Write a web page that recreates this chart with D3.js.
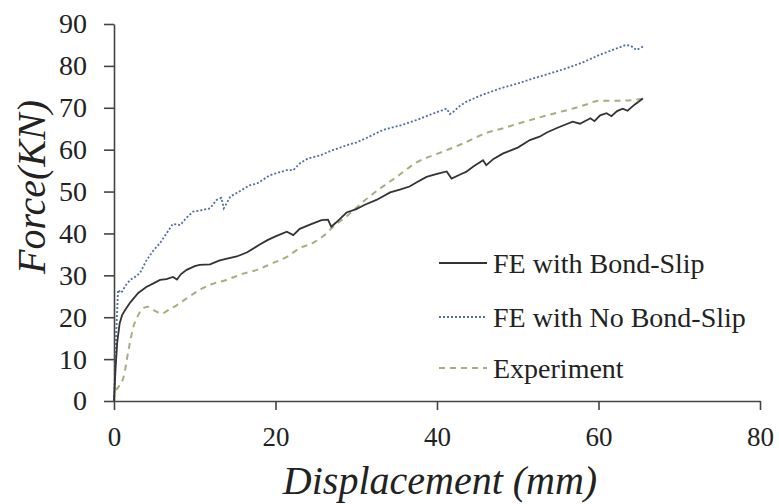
<!DOCTYPE html>
<html>
<head>
<meta charset="utf-8">
<script src="https://cdn.jsdelivr.net/npm/d3@7"></script>
<style>
  body { margin: 0; background: #fff; }
  svg { display: block; }
  svg text { font-family: "Liberation Serif"; fill: #222; }
</style>
</head>
<body>
<script>
// load-displacement curves, [displacement mm, force kN]
var bondSlip = [[0,0],[0.2,8],[0.4,14],[0.7,18.5],[1.0,20.5],[1.4,21.8],[2,23.5],[3,25.8],[4,27.2],[5,28.2],[5.7,28.9],[6.5,29.1],[7.3,29.6],[7.8,29.0],[8.3,30.3],[9,31.3],[10,32.2],[10.6,32.5],[11.9,32.6],[13,33.5],[14,34],[15.2,34.5],[16.5,35.5],[18,37.3],[19,38.4],[20,39.3],[21.4,40.4],[22.2,39.6],[23,41.1],[24.5,42.3],[25.7,43.2],[26.5,43.3],[26.9,41.6],[27.5,42.6],[28.8,45.0],[30,45.8],[31,46.8],[32.5,48],[34.2,49.8],[35.5,50.5],[36.6,51.2],[37.5,52.2],[38.7,53.5],[40,54.2],[41.2,54.8],[41.8,53.1],[43,54.2],[43.6,54.7],[44.5,56],[45.7,57.5],[46.1,56.3],[47,57.8],[48.2,59.1],[50,60.5],[51.5,62.3],[52.7,63.1],[53.6,64.1],[55,65.3],[56.8,66.7],[57.7,66.2],[59,67.5],[59.5,66.8],[60.2,68.2],[61,68.7],[61.6,68.0],[62.3,69.2],[63,69.8],[63.6,69.3],[64.5,70.8],[65.5,72.2]];

var noBondSlip = [[0,0],[0.1,5],[0.25,15],[0.4,22],[0.5,26.5],[0.9,25.8],[1.4,27.5],[2,28.9],[2.5,29.5],[3.2,30.5],[4,33.5],[4.9,36],[5.7,37.7],[6.5,40],[7.3,42.3],[8.2,42],[9,43.8],[9.8,45.2],[11,45.6],[11.9,46],[12.7,48],[13.3,48.5],[13.6,46],[14.4,48.8],[15.5,50],[16.8,51.5],[17.7,51.9],[19.3,53.9],[20.3,54.5],[21.4,55.1],[22.2,55.1],[23,56.7],[24,57.9],[25.5,58.6],[27.1,59.9],[29.2,61.3],[30,61.7],[31.5,63],[33.3,64.7],[35.5,65.8],[37.5,67.1],[39.5,68.6],[41.2,69.8],[41.6,68.5],[42,69],[42.8,70.4],[43.6,71.4],[45.5,73],[47.8,74.6],[50,75.8],[51.9,77],[54,78.2],[56,79.4],[58,80.8],[60.1,82.6],[62,84],[63.4,85],[64,84.8],[64.7,83.8],[65.5,84.6]];

var experiment = [[0,0],[0.1,1.9],[0.6,3.5],[1.2,5.8],[1.8,12.2],[2.4,17.7],[3,20.5],[3.6,22.1],[4.2,22.5],[5,21.6],[5.9,20.9],[6.8,21.8],[7.8,22.9],[9,24.5],[10.6,26.5],[12,27.8],[13.9,28.9],[16,30.4],[17.7,31.3],[19.5,32.8],[21.4,34.4],[23,36.5],[24.7,37.8],[26,39.5],[27.1,41.5],[29,44.4],[31,47.8],[33,50.8],[35,53.5],[37.5,57],[40,59],[42,60.5],[43.6,61.8],[46.1,64],[48,65],[50,66.2],[52.7,67.7],[55,68.9],[56.8,69.8],[58.5,70.8],[60.1,71.7],[63,71.7],[65.5,72.2]];

var xTicks = [0, 20, 40, 60, 80];
var yTicks = [0, 10, 20, 30, 40, 50, 60, 70, 80, 90];
var seriesNames = ["FE with Bond-Slip", "FE with No Bond-Slip", "Experiment"];

var W = 779, H = 504;

var svg = d3.select("body").append("svg")
  .attr("width", W)
  .attr("height", H)
  .attr("font-family", "Liberation Serif");

var x = d3.scaleLinear().domain([0, 80]).range([114, 760]);
var y = d3.scaleLinear().domain([0, 90]).range([401, 24]);

// axes
var gx = svg.append("g")
  .attr("transform", "translate(0," + y(0) + ")")
  .call(d3.axisBottom(x).tickValues(xTicks).tickSize(9).tickPadding(17).tickSizeOuter(0));
var gy = svg.append("g")
  .attr("transform", "translate(" + x(0) + ",0)")
  .call(d3.axisLeft(y).tickValues(yTicks).tickSize(10).tickPadding(17).tickSizeOuter(0));

[gx, gy].forEach(function(g) {
  g.attr("font-family", "Liberation Serif").attr("font-size", 27);
  g.select(".domain").attr("stroke", "#444").attr("stroke-width", 1.6);
  g.selectAll(".tick line").attr("stroke", "#444").attr("stroke-width", 1.6);
  g.selectAll(".tick text").attr("fill", "#222");
});
gy.attr("font-size", 28);

// lines
var line = d3.line()
  .x(function(d) { return x(d[0]); })
  .y(function(d) { return y(d[1]); });

var styles = [
  { data: bondSlip,   color: "#333333", width: 1.8, dash: null,  curve: d3.curveLinear },
  { data: noBondSlip, color: "#4f6ea0", width: 1.8, dash: "2,2", curve: d3.curveLinear },
  { data: experiment, color: "#a9ad7e", width: 2,   dash: "6,5", curve: d3.curveMonotoneX }
];

// draw experiment first so FE curves sit on top
[2, 1, 0].forEach(function(i) {
  var s = styles[i];
  svg.append("path")
    .datum(s.data)
    .attr("fill", "none")
    .attr("stroke", s.color)
    .attr("stroke-width", s.width)
    .attr("stroke-dasharray", s.dash)
    .attr("d", line.curve(s.curve));
});

// legend
var legY = [263, 317, 368];
seriesNames.forEach(function(name, i) {
  var s = styles[i];
  svg.append("line")
    .attr("x1", 439).attr("x2", 487)
    .attr("y1", legY[i]).attr("y2", legY[i])
    .attr("stroke", s.color)
    .attr("stroke-width", s.width)
    .attr("stroke-dasharray", s.dash);
  svg.append("text")
    .attr("x", 493).attr("y", legY[i])
    .attr("dy", "0.35em")
    .attr("font-size", 28)
    .text(name);
});

// axis titles
svg.append("text")
  .attr("x", 440).attr("y", 494)
  .attr("text-anchor", "middle")
  .attr("font-size", 40)
  .attr("font-style", "italic")
  .text("Displacement (mm)");

svg.append("text")
  .attr("transform", "translate(45,187) rotate(-90)")
  .attr("text-anchor", "middle")
  .attr("font-size", 40)
  .attr("font-style", "italic")
  .text("Force(KN)");
</script>
</body>
</html>
